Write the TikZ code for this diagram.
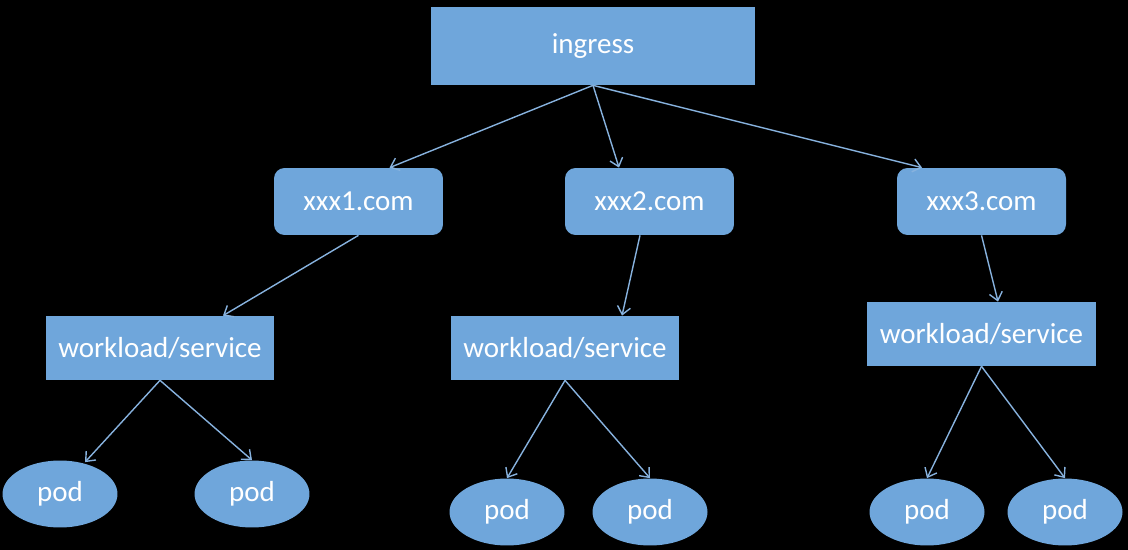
\documentclass[tikz,border=0pt]{standalone}
\usepackage{fontspec}
\setmainfont{Carlito}
\usepackage{xcolor}
\definecolor{boxblue}{RGB}{111,166,219}
\definecolor{linkblue}{RGB}{135,178,222}
\usepackage{tikz}
\usetikzlibrary{shapes.geometric,arrows.meta}

\begin{document}
\begin{tikzpicture}[
  x=0.02cm,y=-0.02cm,
  base/.style={fill=boxblue,draw=none,text=white,align=center,inner sep=0pt,
               font=\fontsize{16.5}{20}\selectfont},
  entry/.style={base,rectangle,minimum width=6.5cm,minimum height=1.56cm},
  host/.style={base,rectangle,rounded corners=6pt,minimum width=3.38cm,minimum height=1.34cm},
  svc/.style={base,rectangle,minimum width=4.58cm,minimum height=1.28cm},
  pod/.style={base,ellipse,minimum width=2.3cm,minimum height=1.34cm},
  arrow/.style={-{Straight Barb[length=4.5pt,width=7.5pt]},linkblue,line width=0.8pt},
]

\fill[black] (0,0) rectangle (1128,550);

\node[entry] (ing) at (593,46)    {ingress};
\node[host]  (x1)  at (358.5,201.5) {xxx1.com};
\node[host]  (x2)  at (649.5,201.5) {xxx2.com};
\node[host]  (x3)  at (981.5,201.5) {xxx3.com};
\node[svc]   (ws1) at (160,348)   {workload/service};
\node[svc]   (ws2) at (565,348)   {workload/service};
\node[svc]   (ws3) at (981.5,334) {workload/service};
\node[pod]   (p1)  at (60,494)    {pod};
\node[pod]   (p2)  at (252,494)   {pod};
\node[pod]   (p3)  at (507,512)   {pod};
\node[pod]   (p4)  at (650,512)   {pod};
\node[pod]   (p5)  at (927,512)   {pod};
\node[pod]   (p6)  at (1065,512)  {pod};

\draw[arrow] (ing.south) -- ([xshift=0.62cm]x1.north);
\draw[arrow] (ing.south) -- ([xshift=-0.61cm]x2.north);
\draw[arrow] (ing.south) -- ([xshift=-1.19cm]x3.north);
\draw[arrow] (x1.south) -- ([xshift=1.26cm]ws1.north);
\draw[arrow] ([xshift=-0.19cm]x2.south) -- ([xshift=1.14cm]ws2.north);
\draw[arrow] (x3.south) -- ([xshift=0.33cm]ws3.north);
\draw[arrow] (ws1.south) -- ([xshift=0.5cm,yshift=-0.04cm]p1.north);
\draw[arrow] (ws1.south) -- (p2.north);
\draw[arrow] (ws2.south) -- (p3.north);
\draw[arrow] (ws2.south) -- (p4.north);
\draw[arrow] (ws3.south) -- (p5.north);
\draw[arrow] (ws3.south) -- (p6.north);

\end{tikzpicture}
\end{document}
